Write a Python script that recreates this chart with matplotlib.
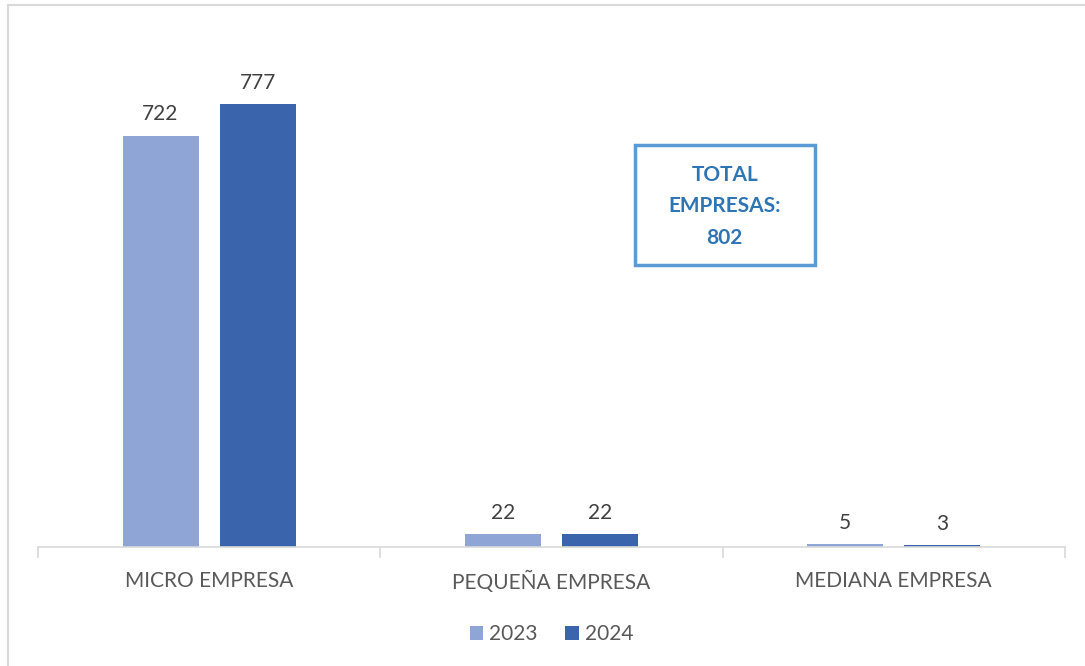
import matplotlib
matplotlib.use("Agg")
import matplotlib.pyplot as plt
from matplotlib.lines import Line2D
from matplotlib.patches import Rectangle
import numpy as np

categories = ["MICRO EMPRESA", "PEQUEÑA EMPRESA", "MEDIANA EMPRESA"]
years = ["2023", "2024"]
values_2023 = [722, 22, 5]
values_2024 = [777, 22, 3]
total_label = "TOTAL\nEMPRESAS:\n802"

COLOR_2023 = "#8FA5D5"
COLOR_2024 = "#3A64AC"
AXIS_GRAY = "#D9D9D9"
TEXT_GRAY = "#595959"
LABEL_DARK = "#404040"
BOX_BLUE = "#5B9BD5"
BOX_TEXT = "#2E75B6"

plt.rcParams["font.family"] = ["Lato", "DejaVu Sans"]

fig = plt.figure(figsize=(10.85, 6.66), dpi=100, facecolor="white")
ax = fig.add_axes([0.035, 0.1787, 0.9465, 0.770])

x = np.arange(len(categories))
width = 0.222
offset = 0.142
bars_a = ax.bar(x - offset, values_2023, width, color=COLOR_2023, label=years[0])
bars_b = ax.bar(x + offset, values_2024, width, color=COLOR_2024, label=years[1])

for bars in (bars_a, bars_b):
    for bar in bars:
        h = bar.get_height()
        ax.annotate(f"{h:.0f}", (bar.get_x() + bar.get_width() / 2, h),
                    xytext=(0, 8), textcoords="offset points",
                    ha="center", va="bottom", fontsize=15, color=LABEL_DARK)

ax.set_xlim(-0.5, len(categories) - 0.5)
ax.set_ylim(0, 900)
ax.set_yticks([])
for side in ("top", "right", "left"):
    ax.spines[side].set_visible(False)
ax.spines["bottom"].set_color(AXIS_GRAY)
ax.spines["bottom"].set_linewidth(1.2)

# category boundary ticks
ax.set_xticks(np.arange(len(categories) + 1) - 0.5, minor=True)
ax.tick_params(axis="x", which="minor", length=8, width=1.2, color=AXIS_GRAY)
ax.set_xticks(x)
ax.set_xticklabels(categories, fontsize=15, color=TEXT_GRAY)
ax.tick_params(axis="x", which="major", length=0, pad=17)

ax.legend(loc="upper center", bbox_to_anchor=(0.5, -0.114), ncol=2, frameon=False,
          fontsize=15, labelcolor=TEXT_GRAY, handlelength=0.65, handleheight=0.65,
          handletextpad=0.3, columnspacing=1.3)

# total annotation box
fig.add_artist(Rectangle((0.5853, 0.6021), 0.1659, 0.1802, transform=fig.transFigure,
                         facecolor="white", edgecolor=BOX_BLUE, linewidth=2.5))
fig.text(0.668, 0.690, total_label, ha="center", va="center", fontsize=15,
         fontweight="bold", color=BOX_TEXT, linespacing=1.7)

# outer chart frame (top and left edges visible)
fig.add_artist(Line2D([0.0075, 1.0], [0.9925, 0.9925], color=AXIS_GRAY, linewidth=1.5))
fig.add_artist(Line2D([0.0075, 0.0075], [0.0, 0.9925], color=AXIS_GRAY, linewidth=1.5))

fig.savefig("out.png", dpi=100, facecolor="white")
